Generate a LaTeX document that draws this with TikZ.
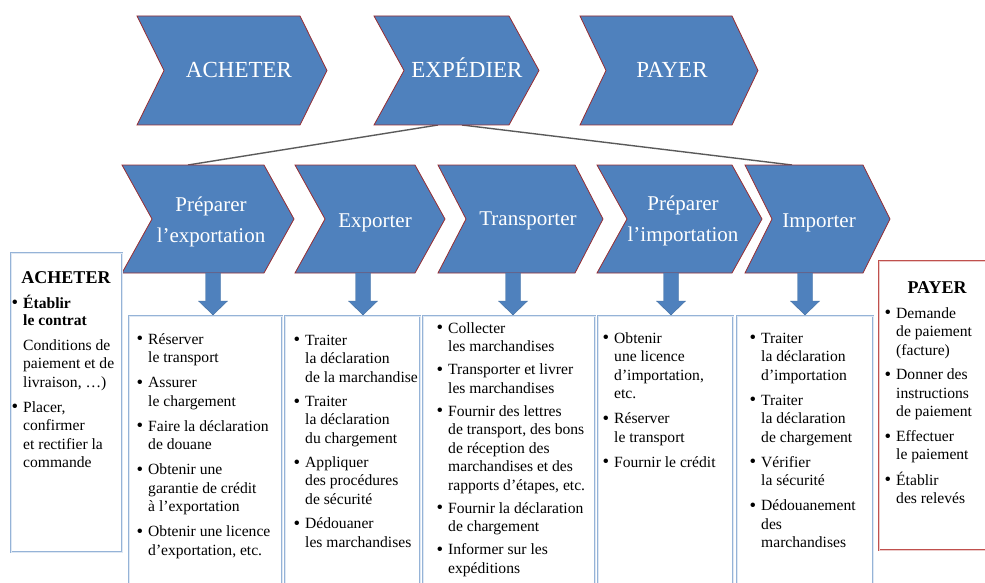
\documentclass[tikz,border=0pt]{standalone}
\usepackage{fontspec}
\setmainfont{Liberation Serif}
\definecolor{chevblue}{RGB}{79,129,189}
\definecolor{chevedge}{RGB}{150,45,50}
\definecolor{boxblue}{RGB}{149,179,215}
\definecolor{boxred}{RGB}{192,80,77}
\definecolor{linkgray}{RGB}{90,90,90}
% bullet cell of the step lists
\newcommand\bl{\makebox[11.5pt][l]{\raisebox{-0.9pt}{\scalebox{1.2}{•}}}}
% chevron: name, left x, top-right x, top y, bottom y, point depth
\newcommand\chevshape[6]{%
  \draw[chev] (#2,#4) -- (#3,#4) -- ({#3+#6},{(#4+#5)/2}) -- (#3,#5)
    -- (#2,#5) -- ({#2+#6},{(#4+#5)/2}) -- cycle;
  \coordinate (#1) at ({(#2+#3+#6)/2},{(#4+#5)/2});
}
% block arrow pointing down: centre x, top y, bottom y
\newcommand\blockarrow[3]{%
  \draw[downarr] ({#1-7.5},#2) -- ({#1+7.5},#2) -- ({#1+7.5},{#3-14})
    -- ({#1+14.5},{#3-14}) -- (#1,#3) -- ({#1-14.5},{#3-14})
    -- ({#1-7.5},{#3-14}) -- cycle;
}
\begin{document}
\begin{tikzpicture}[x=1pt,y=-1pt,
  chev/.style={fill=chevblue, draw=chevedge, line width=0.8pt, line join=miter},
  toplabel/.style={text=white, inner sep=0, anchor=base, font=\fontsize{23}{27}\selectfont},
  sublabel/.style={text=white, inner sep=0, anchor=base, font=\fontsize{21}{31}\selectfont},
  infobox/.style={draw=boxblue, double=boxblue!30, double distance=0.9pt, line width=1pt},
  paybox/.style={draw=boxred, double=boxred!30, double distance=0.9pt, line width=1pt},
  downarr/.style={fill=chevblue, draw=chevblue!85!black, line width=0.4pt},
  link/.style={draw=linkgray, line width=1.4pt},
  listtext/.style={anchor=base west, inner sep=0, font=\fontsize{15.6}{18.5}\selectfont},
  boxtitle/.style={anchor=base, inner sep=0, font=\fontsize{18}{21}\selectfont\bfseries},
]
\useasboundingbox (0,0) rectangle (985,583);

% links from the shipping stage to its sub-stages
\coordinate (exp-foot-l) at (438,125);
\coordinate (exp-foot-r) at (462,125);
\coordinate (prepexp-top) at (188,165);
\coordinate (imp-top) at (792,165);
\draw[link] (exp-foot-l) -- (prepexp-top);
\draw[link] (exp-foot-r) -- (imp-top);

% main stages
\chevshape{acheter}{137}{300}{16}{125}{27}
\chevshape{expedier}{374}{509}{16}{125}{30}
\chevshape{payer}{580}{732}{16}{125}{26}
\node[toplabel] (l-acheter) at (239,78) {ACHETER};
\node[toplabel] (l-expedier) at (467,78) {EXPÉDIER};
\node[toplabel] (l-payer) at (672,78) {PAYER};

% sub-stages of shipping
\chevshape{prepexp}{122}{264}{165}{273}{30}
\chevshape{exporter}{295}{415}{165}{273}{30}
\chevshape{transporter}{438}{575}{165}{273}{28}
\chevshape{prepimp}{597}{732}{165}{273}{30}
\chevshape{importer}{745}{863}{165}{273}{27}
\node[sublabel] (l-prepexp) at (211,211) {\begin{tabular}[t]{@{}c@{}}Préparer\\l’exportation\end{tabular}};
\node[sublabel] (l-exporter) at (375,227) {Exporter};
\node[sublabel] (l-transporter) at (528,225) {Transporter};
\node[sublabel] (l-prepimp) at (683,210) {\begin{tabular}[t]{@{}c@{}}Préparer\\l’importation\end{tabular}};
\node[sublabel] (l-importer) at (819,227) {Importer};

% arrows down to the task lists
\blockarrow{213}{273}{315}
\blockarrow{363}{273}{315}
\blockarrow{513}{273}{315}
\blockarrow{671}{273}{315}
\blockarrow{805}{273}{315}

% task boxes
\draw[infobox] (11,253) rectangle (122,552);
\draw[infobox] (129,316) rectangle (282,600);
\draw[infobox] (285,316) rectangle (420,600);
\draw[infobox] (423,316) rectangle (595,600);
\draw[infobox] (598,316) rectangle (733,600);
\draw[infobox] (737,316) rectangle (873,600);
\draw[paybox] (879,261) rectangle (1000,550);

% buying
\node[boxtitle] (t-acheter) at (66,283) {ACHETER};
\node[listtext] (b-acheter) at (11.5,308) {\begin{tabular}[t]{@{}l@{}l@{}}
\bl & \textbf{Établir}\\[-1.5pt]
 & \textbf{le contrat}\\[6.5pt]
 & Conditions de\\
 & paiement et de\\
 & livraison, …)\\[6.5pt]
\bl & Placer,\\
 & confirmer\\
 & et rectifier la\\
 & commande
\end{tabular}};

% preparing export
\node[listtext] (b-prepexp) at (136.5,344) {\begin{tabular}[t]{@{}l@{}l@{}}
\bl & Réserver\\
 & le transport\\[6.5pt]
\bl & Assurer\\
 & le chargement\\[6.5pt]
\bl & Faire la déclaration\\
 & de douane\\[6.5pt]
\bl & Obtenir une\\
 & garantie de crédit\\
 & à l’exportation\\[6.5pt]
\bl & Obtenir une licence\\
 & d’exportation, etc.
\end{tabular}};

% exporting
\node[listtext] (b-exporter) at (293.5,345) {\begin{tabular}[t]{@{}l@{}l@{}}
\bl & Traiter\\
 & la déclaration\\
 & de la marchandise\\[5.7pt]
\bl & Traiter\\
 & la déclaration\\
 & du chargement\\[5.7pt]
\bl & Appliquer\\
 & des procédures\\
 & de sécurité\\[5.7pt]
\bl & Dédouaner\\
 & les marchandises
\end{tabular}};

% transporting
\node[listtext] (b-transporter) at (436.5,333) {\begin{tabular}[t]{@{}l@{}l@{}}
\bl & Collecter\\
 & les marchandises\\[4.5pt]
\bl & Transporter et livrer\\
 & les marchandises\\[4.5pt]
\bl & Fournir des lettres\\
 & de transport, des bons\\
 & de réception des\\
 & marchandises et des\\
 & rapports d’étapes, etc.\\[4.5pt]
\bl & Fournir la déclaration\\
 & de chargement\\[4.5pt]
\bl & Informer sur les\\
 & expéditions
\end{tabular}};

% preparing import
\node[listtext] (b-prepimp) at (602.5,343) {\begin{tabular}[t]{@{}l@{}l@{}}
\bl & Obtenir\\
 & une licence\\
 & d’importation,\\
 & etc.\\[6.5pt]
\bl & Réserver\\
 & le transport\\[6.5pt]
\bl & Fournir le crédit
\end{tabular}};

% importing
\node[listtext] (b-importer) at (749.5,343) {\begin{tabular}[t]{@{}l@{}l@{}}
\bl & Traiter\\
 & la déclaration\\
 & d’importation\\[6.5pt]
\bl & Traiter\\
 & la déclaration\\
 & de chargement\\[6.5pt]
\bl & Vérifier\\
 & la sécurité\\[6.5pt]
\bl & Dédouanement\\
 & des\\
 & marchandises
\end{tabular}};

% paying
\node[boxtitle] (t-payer) at (937,293) {PAYER};
\node[listtext] (b-payer) at (884.5,318) {\begin{tabular}[t]{@{}l@{}l@{}}
\bl & Demande\\
 & de paiement\\
 & (facture)\\[6.2pt]
\bl & Donner des\\
 & instructions\\
 & de paiement\\[6.2pt]
\bl & Effectuer\\
 & le paiement\\[6.2pt]
\bl & Établir\\
 & des relevés
\end{tabular}};
\end{tikzpicture}
\end{document}
